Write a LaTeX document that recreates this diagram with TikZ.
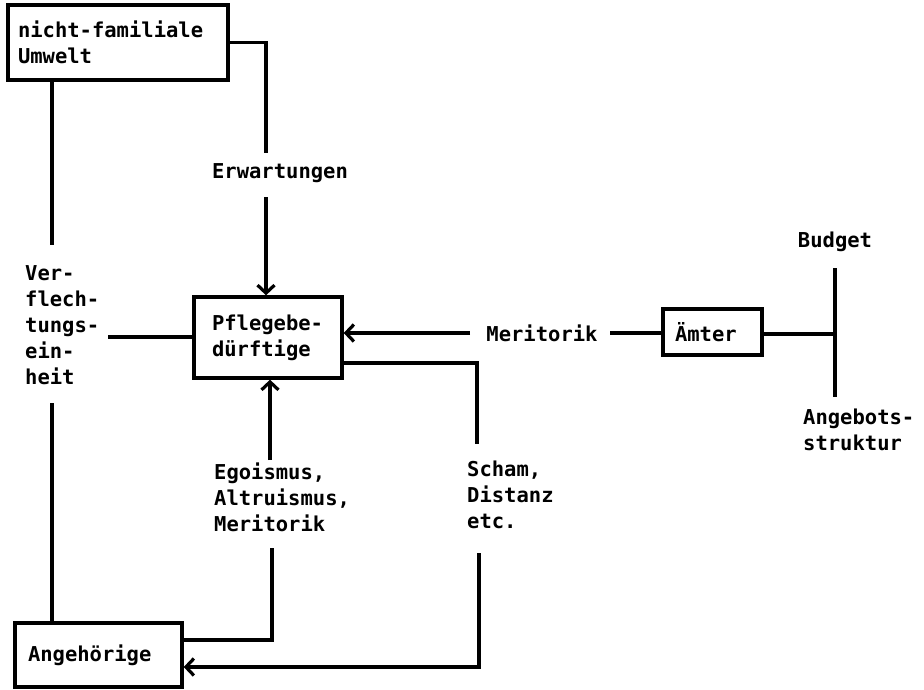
\documentclass[tikz,border=0pt]{standalone}
\usepackage{fontspec}
\setmonofont{DejaVu Sans Mono}
\usetikzlibrary{arrows.meta}
\begin{document}
\begin{tikzpicture}[x=1pt,y=-1pt,
  every node/.style={font=\ttfamily\bfseries\fontsize{20.5}{26}\selectfont},
  box/.style={draw, line width=3.4pt, rectangle, align=left, inner ysep=0pt},
  lbl/.style={inner sep=0pt, align=left},
  conn/.style={line width=3.2pt},
  arr/.style={conn, -{Straight Barb[length=8pt,width=17pt,line width=3.2pt]}}
]
\useasboundingbox (0,0) rectangle (924,689);
% boxes
\node[box, minimum width=220pt, minimum height=75pt, text width=200pt, inner xsep=10pt] (umwelt) at (118,42.5) {nicht-familiale\\Umwelt};
\node[box, minimum width=148pt, minimum height=81pt, text width=112pt, inner xsep=18pt] (pflege) at (268,337.5) {Pflegebe-\\dürftige};
\node[box, minimum width=99pt, minimum height=46pt, text width=75pt, inner xsep=12pt] (aemter) at (712.5,332) {Ämter};
\node[box, minimum width=167pt, minimum height=64pt, text width=141pt, inner xsep=13pt] (angeh) at (98.5,655) {Angehörige};
% labels
\node[lbl] (erw) at (280,173) {Erwartungen};
\node[lbl, anchor=west] (verf) at (25,325) {Ver-\\flech-\\tungs-\\ein-\\heit};
\node[lbl] (merit) at (542,333) {Meritorik};
\node[lbl, anchor=west] (ego) at (214,497) {Egoismus,\\Altruismus,\\Meritorik};
\node[lbl, anchor=west] (scham) at (467,495) {Scham,\\Distanz\\etc.};
\node[lbl] (budget) at (835,242) {Budget};
\node[lbl, anchor=west] (angebot) at (803,430) {Angebots-\\struktur};
% coordinates
\coordinate (e1) at (266,153);
\coordinate (e2) at (266,197);
\coordinate (v1) at (52,245);
\coordinate (v2) at (52,403);
\coordinate (v3) at (108,337);
\coordinate (m1) at (470,333);
\coordinate (m2) at (610,333);
\coordinate (b0) at (835,334);
\coordinate (b1) at (835,268);
\coordinate (b2) at (835,397);
\coordinate (s1) at (477,444);
\coordinate (s2) at (479,553);
\coordinate (g1) at (270,460);
\coordinate (g2) at (272,548);
% connectors
\draw[conn] (umwelt.east) -| (e1);
\draw[arr] (e2) -- (e2 |- pflege.north);
\draw[conn] (umwelt.south -| v1) -- (v1);
\draw[conn] (v2) -- (angeh.north -| v2);
\draw[conn] (v3) -- (pflege.west |- v3);
\draw[arr] (m1) -- (pflege.east |- m1);
\draw[conn] (m2) -- (aemter.west |- m2);
\draw[conn] (aemter.east |- b0) -- (b0);
\draw[conn] (b1) -- (b2);
\draw[conn] (pflege.east |- 0,363) -| (s1);
\draw[arr] (s2) |- (angeh.east |- 0,667);
\draw[arr] (g1) -- (g1 |- pflege.south);
\draw[conn] (g2) |- (angeh.east |- 0,640);
\end{tikzpicture}
\end{document}
